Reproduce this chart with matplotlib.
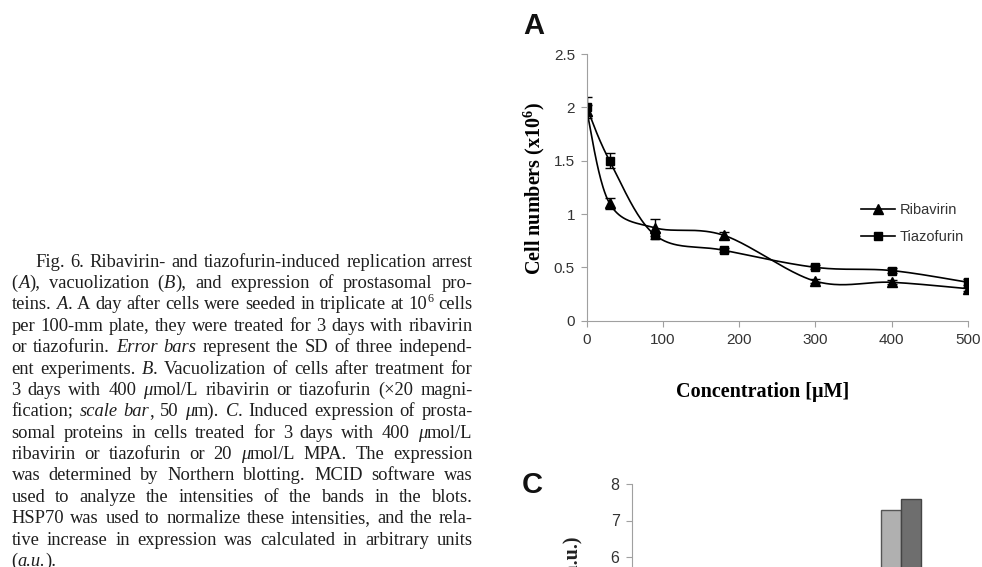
import numpy as np
import matplotlib.pyplot as plt
from matplotlib.font_manager import FontProperties
from matplotlib.lines import Line2D

plt.rcParams['mathtext.fontset'] = 'custom'
plt.rcParams['mathtext.rm'] = 'Liberation Serif:bold'

# Panel A data
conc = [0, 30, 90, 180, 300, 400, 500]
ribavirin = [1.97, 1.10, 0.87, 0.80, 0.37, 0.36, 0.30]
ribavirin_sd = [0.05, 0.05, 0.08, 0.03, 0.02, 0.02, 0.02]
tiazofurin = [2.00, 1.50, 0.80, 0.66, 0.50, 0.47, 0.36]
tiazofurin_sd = [0.10, 0.07, 0.03, 0.02, 0.02, 0.02, 0.03]

# Panel C (only the top of one group is visible)
c_light = [7.3]
c_dark = [7.58]

caption = [
    "Fig. 6. Ribavirin- and tiazofurin-induced replication arrest",
    "(_A_), vacuolization (_B_), and expression of prostasomal pro-",
    "teins. _A_. A day after cells were seeded in triplicate at 10^6^ cells",
    "per 100-mm plate, they were treated for 3 days with ribavirin",
    "or tiazofurin. _Error bars_ represent the SD of three independ-",
    "ent experiments. _B_. Vacuolization of cells after treatment for",
    "3 days with 400 _\u03bc_mol/L ribavirin or tiazofurin (\u00d720 magni-",
    "fication; _scale bar_, 50 _\u03bc_m). _C_. Induced expression of prosta-",
    "somal proteins in cells treated for 3 days with 400 _\u03bc_mol/L",
    "ribavirin or tiazofurin or 20 _\u03bc_mol/L MPA. The expression",
    "was determined by Northern blotting. MCID software was",
    "used to analyze the intensities of the bands in the blots.",
    "HSP70 was used to normalize these intensities, and the rela-",
    "tive increase in expression was calculated in arbitrary units",
    "(_a.u._).",
]

W, H = 982, 567
fig = plt.figure(figsize=(W / 100, H / 100), dpi=100)


def smooth(x, y, n=40):
    # Excel-style smoothed line through the points
    pts = np.column_stack([x, y]).astype(float)
    p = np.vstack([pts[0], pts, pts[-1]])
    t = np.linspace(0, 1, n)[:, None]
    out = []
    for i in range(1, len(p) - 2):
        p0, p1, p2, p3 = p[i - 1], p[i], p[i + 1], p[i + 2]
        c1 = p1 + (p2 - p0) / 6
        c2 = p2 - (p3 - p1) / 6
        out.append((1 - t) ** 3 * p1 + 3 * (1 - t) ** 2 * t * c1
                   + 3 * (1 - t) * t ** 2 * c2 + t ** 3 * p2)
    out = np.vstack(out)
    return out[:, 0], out[:, 1]


# ---- Panel A
ax = fig.add_axes([586.7 / W, 1 - 320.7 / H, 381.3 / W, 266.7 / H])
for y, sd, m, ms in [(ribavirin, ribavirin_sd, '^', 7), (tiazofurin, tiazofurin_sd, 's', 6)]:
    sx, sy = smooth(conc, y)
    ax.plot(sx, sy, color='black', lw=1.2)
    ax.errorbar(conc, y, yerr=sd, fmt=m, color='black', ms=ms,
                ecolor='black', elinewidth=1, capsize=3.5, capthick=1)

ax.set_xlim(0, 500)
ax.set_ylim(0, 2.5)
ax.set_xticks(range(0, 501, 100))
ax.set_yticks([0, 0.5, 1, 1.5, 2, 2.5])
ax.set_yticklabels(['0', '0.5', '1', '1.5', '2', '2.5'])
for s in ['top', 'right']:
    ax.spines[s].set_visible(False)
for s in ['left', 'bottom']:
    ax.spines[s].set_color('#a0a0a0')
ax.tick_params(colors='#a0a0a0', labelcolor='#333333', length=4, width=0.8,
               labelsize=11, pad=4.5)
for lab in ax.get_xticklabels() + ax.get_yticklabels():
    lab.set_family('Liberation Sans')

ax.set_xlabel('Concentration [\u03bcM]', family='Liberation Serif', weight='bold',
              fontsize=14.5, va='center')
ax.xaxis.set_label_coords((763 - 586.7) / 381.3, -(392 - 320.7) / 266.7)
ax.set_ylabel(r'Cell numbers (x10$^{6}$)', family='Liberation Serif', weight='bold',
              fontsize=14.5, va='center')
ax.yaxis.set_label_coords((534 - 586.7) / 381.3, (320.7 - 188) / 266.7)

handles = [Line2D([], [], color='black', lw=1.2, marker='^', ms=7),
           Line2D([], [], color='black', lw=1.2, marker='s', ms=6)]
leg = ax.legend(handles, ['Ribavirin', 'Tiazofurin'], loc='upper left',
                bbox_to_anchor=(861 / W, 1 - 203 / H), bbox_transform=fig.transFigure,
                frameon=False, handlelength=2.3, handletextpad=0.35, labelspacing=0.9,
                borderaxespad=0, borderpad=0,
                prop=FontProperties(family='Liberation Sans', size=10.5))
for t in leg.get_texts():
    t.set_color('#333333')

fig.text(523 / W, 1 - 26 / H, 'A', family='Liberation Sans', weight='bold',
         fontsize=21, va='center', ha='left', color='#111111')

# ---- Panel C
axc = fig.add_axes([632 / W, 1 - 776 / H, 336 / W, 292 / H])
bw = 0.3
xc = np.arange(len(c_light))
axc.bar(xc - bw / 2, c_light, bw, color='#b0b0b0', edgecolor='#555555', lw=1)
axc.bar(xc + bw / 2, c_dark, bw, color='#6e6e6e', edgecolor='#444444', lw=1)
axc.set_xlim(-4.03, 1.01)
axc.set_ylim(0, 8)
axc.set_yticks([6, 7, 8])
axc.set_xticks([])
for s in ['top', 'right', 'bottom']:
    axc.spines[s].set_visible(False)
axc.spines['left'].set_color('#a0a0a0')
axc.tick_params(colors='#a0a0a0', labelcolor='#333333', length=4, width=0.8,
                labelsize=11.5, pad=5)
for lab in axc.get_yticklabels():
    lab.set_family('Liberation Sans')
fig.text(573 / W, 1 - 536 / H, 'Relative expression (a.u.)', rotation=90,
         family='Liberation Serif', weight='bold', fontsize=14.5,
         ha='center', va='top', color='#222222')
fig.text(522 / W, 1 - 485 / H, 'C', family='Liberation Sans', weight='bold',
         fontsize=21, va='center', ha='left', color='#111111')

# ---- Caption, justified
renderer = fig.canvas.get_renderer()
fs = 13.3
props = {
    'n': FontProperties(family='Liberation Serif', size=fs),
    'i': FontProperties(family='Liberation Serif', size=fs, style='italic'),
    's': FontProperties(family='Liberation Serif', size=fs * 0.65),
}


def parse(line):
    words, cur, seg, style = [], [], '', 'n'
    for ch in line:
        if ch in '_^':
            if seg:
                cur.append((seg, style))
            seg = ''
            new = 'i' if ch == '_' else 's'
            style = 'n' if style == new else new
        elif ch == ' ':
            if seg:
                cur.append((seg, style))
            seg = ''
            if cur:
                words.append(cur)
            cur = []
        else:
            seg += ch
    if seg:
        cur.append((seg, style))
    if cur:
        words.append(cur)
    return words


def width(text, style):
    w, _, _ = renderer.get_text_width_height_descent(text, props[style], ismath=False)
    return w


left, right = 11.5, 472.5
for i, line in enumerate(caption):
    words = parse(line)
    x0 = 35 if i == 0 else left
    base = 266.5 + 21.4 * i
    wws = [sum(width(s, st) for s, st in w) for w in words]
    if i == len(caption) - 1:
        gap = width('a', 'n') * 0.55
    else:
        gap = max((right - x0 - sum(wws)) / (len(words) - 1), 2.0)
    x = x0
    for w, ww in zip(words, wws):
        xx = x
        for s, st in w:
            dy = 7 if st == 's' else 0
            fig.text(xx / W, 1 - (base - dy) / H, s, fontproperties=props[st],
                     va='baseline', ha='left', color='#1e1e1e')
            xx += width(s, st)
        x += ww + gap

fig.savefig('out.png', dpi=100)
